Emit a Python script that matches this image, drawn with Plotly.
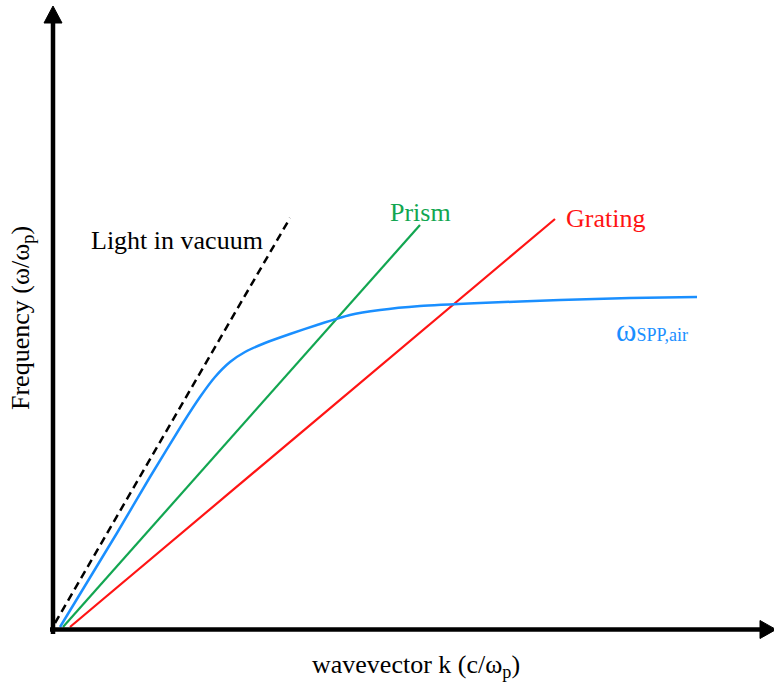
import plotly.graph_objects as go

# Data (k in c/ωp, ω in ωp units; arbitrary schematic units)
light_k = [0.02, 2.37]
light_w = [0.07, 4.12]

prism_k = [0.10, 3.67]
prism_w = [0.03, 4.05]

grating_k = [0.17, 5.02]
grating_w = [0.03, 4.11]

spp_k = [0.07, 0.64, 0.97, 1.30, 1.47, 1.62, 1.77, 1.92, 2.12, 2.37, 2.64, 2.97, 3.27, 3.67, 4.27, 5.07, 5.77, 6.44]
spp_w = [0.03, 0.97, 1.53, 2.07, 2.33, 2.53, 2.68, 2.78, 2.87, 2.96, 3.05, 3.15, 3.20, 3.24, 3.27, 3.30, 3.32, 3.33]

BLUE = "#1a8fff"
GREEN = "#12a651"
RED = "#ff1414"
FONT = "Liberation Serif"

fig = go.Figure()
fig.add_trace(go.Scatter(x=light_k, y=light_w, mode="lines",
                         line=dict(color="black", width=2.5, dash="8px,5px")))
fig.add_trace(go.Scatter(x=prism_k, y=prism_w, mode="lines",
                         line=dict(color=GREEN, width=2.2)))
fig.add_trace(go.Scatter(x=grating_k, y=grating_w, mode="lines",
                         line=dict(color=RED, width=2.2)))
fig.add_trace(go.Scatter(x=spp_k, y=spp_w, mode="lines",
                         line=dict(color=BLUE, width=2.5, shape="spline", smoothing=0.6)))

# Axes with arrows
fig.add_shape(type="line", x0=0, x1=0, y0=-0.04, y1=6.1, line=dict(color="black", width=4.5))
fig.add_shape(type="path", path="M -0.09 6.07 L 0.0 6.24 L 0.09 6.07 Z",
              fillcolor="black", line=dict(color="black", width=1))
fig.add_shape(type="line", x0=-0.03, x1=7.1, y0=0.005, y1=0.005, line=dict(color="black", width=4.5))
fig.add_shape(type="path", path="M 7.07 0.095 L 7.23 0.005 L 7.07 -0.085 Z",
              fillcolor="black", line=dict(color="black", width=1))

# Labels
fig.add_annotation(x=1.24, y=3.90, text="Light in vacuum", showarrow=False,
                   font=dict(family=FONT, size=26, color="black"))
fig.add_annotation(x=3.67, y=4.18, text="Prism", showarrow=False,
                   font=dict(family=FONT, size=26, color=GREEN))
fig.add_annotation(x=5.52, y=4.12, text="Grating", showarrow=False,
                   font=dict(family=FONT, size=26, color=RED))
fig.add_annotation(x=5.99, y=3.00, text="<span style='font-size:31px'>ω</span>SPP,air",
                   showarrow=False, font=dict(family=FONT, size=18, color=BLUE))
fig.add_annotation(x=3.63, y=-0.36, text="wavevector k (c/ω<sub>p</sub>)", showarrow=False,
                   font=dict(family=FONT, size=26, color="black"))
fig.add_annotation(x=-0.31, y=3.12, text="Frequency (ω/ω<sub>p</sub>)", showarrow=False,
                   textangle=-90, font=dict(family=FONT, size=26, color="black"))

fig.update_layout(
    width=774, height=688,
    margin=dict(l=0, r=0, t=0, b=0),
    paper_bgcolor="white", plot_bgcolor="white",
    showlegend=False,
    xaxis=dict(range=[-0.53, 7.21], visible=False, fixedrange=True),
    yaxis=dict(range=[-0.58, 6.30], visible=False, fixedrange=True),
)

fig.write_html("out.html")
